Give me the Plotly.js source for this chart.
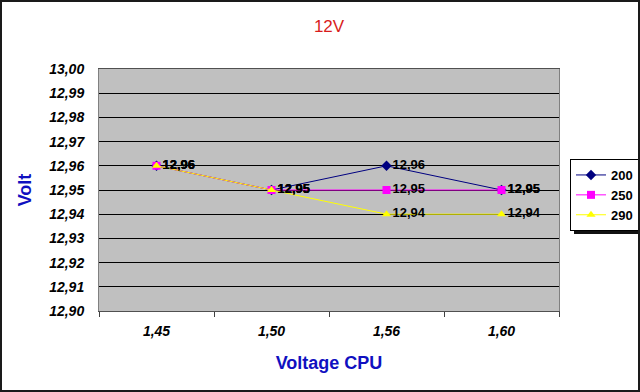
<!DOCTYPE html>
<html>
<head>
<meta charset="utf-8">
<script src="https://cdn.plot.ly/plotly-3.0.1.min.js"></script>
<style>
html,body{margin:0;padding:0;background:#fff;}
#wrap{position:relative;width:640px;height:392px;}
#chart{width:640px;height:392px;}
#frame{position:absolute;left:0;top:0;width:640px;height:392px;box-sizing:border-box;border:2px solid #1a1a1a;pointer-events:none;}
#shadow{position:absolute;background:#111;pointer-events:none;}
</style>
</head>
<body>
<div id="wrap"><div id="shadow"></div><div id="chart"></div><div id="frame"></div></div>
<script>
var categories = ['1,45', '1,50', '1,56', '1,60'];
var s200 = [12.96, 12.95, 12.96, 12.95];
var s250 = [12.96, 12.95, 12.95, 12.95];
var s290 = [12.96, 12.95, 12.94, 12.94];
var seriesNames = ['200', '250', '290'];

var FAM = 'Liberation Sans, Arial, sans-serif';
var labelFont = {family: FAM, size: 13, color: '#000', weight: 700};

function mk(name, y, color, symbol, size) {
  return {
    type: 'scatter', mode: 'lines+markers+text', name: name,
    x: categories, y: y,
    line: {color: color, width: 1},
    marker: {color: color, symbol: symbol, size: size},
    texttemplate: '<b>%{y:.2f}</b>', textposition: 'middle right',
    textfont: labelFont, hoverinfo: 'skip', cliponaxis: false
  };
}

var data = [
  mk(seriesNames[0], s200, '#000080', 'diamond', 8),
  mk(seriesNames[1], s250, '#ff00ff', 'square', 8),
  mk(seriesNames[2], s290, '#ffff00', 'triangle-up', 8)
];

var layout = {
  width: 640, height: 392,
  margin: {l: 99, r: 81, t: 69, b: 81, autoexpand: false},
  paper_bgcolor: 'rgba(0,0,0,0)', plot_bgcolor: '#c0c0c0',
  separators: ',.',
  showlegend: true,
  title: {text: '12V', x: 0.5, xref: 'paper', xanchor: 'center', y: 1 - 26/392, yref: 'container', yanchor: 'middle',
    font: {family: FAM, size: 17, color: '#d81c1c'}},
  xaxis: {
    type: 'category', range: [-0.5, 3.5], tickson: 'boundaries',
    showgrid: false, ticks: 'outside', ticklen: 5, tickcolor: '#404040',
    showline: true, linecolor: '#505050', linewidth: 1, mirror: true,
    tickfont: {family: FAM, size: 14, color: '#000', weight: 700, style: 'italic'},
    ticklabelstandoff: 7,
    title: {text: 'Voltage CPU', standoff: 18, font: {family: FAM, size: 18, color: '#1010c0', weight: 700}}
  },
  yaxis: {
    range: [12.90, 13.00], dtick: 0.01, tick0: 12.90, tickformat: '.2f',
    showgrid: true, gridcolor: '#000000', gridwidth: 1, zeroline: false,
    showline: true, linecolor: '#808080', linewidth: 1, mirror: true,
    ticks: '', ticklabelstandoff: 11,
    tickfont: {family: FAM, size: 14, color: '#000', weight: 700, style: 'italic'},
    title: {text: 'Volt', standoff: 12, font: {family: FAM, size: 18, color: '#1010c0', weight: 700}}
  },
  legend: {
    x: (570 - 99) / 460, xanchor: 'left', y: (311 - 159) / 242, yanchor: 'top',
    bgcolor: '#ffffff', bordercolor: '#000000', borderwidth: 1,
    font: {family: FAM, size: 13, color: '#000', weight: 700},
    itemwidth: 30, tracegroupgap: 0
  }
};

document.body.style.background = '#fff';
Plotly.newPlot('chart', data, layout, {staticPlot: true, displayModeBar: false}).then(function () {
  var bg = document.querySelector('#chart .legend .bg');
  if (!bg) return;
  var r = bg.getBoundingClientRect();
  var w = document.getElementById('wrap').getBoundingClientRect();
  var sh = document.getElementById('shadow');
  sh.style.left = (r.left - w.left + 3) + 'px';
  sh.style.top = (r.top - w.top + 3) + 'px';
  sh.style.width = r.width + 'px';
  sh.style.height = r.height + 'px';
});
</script>
</body>
</html>
